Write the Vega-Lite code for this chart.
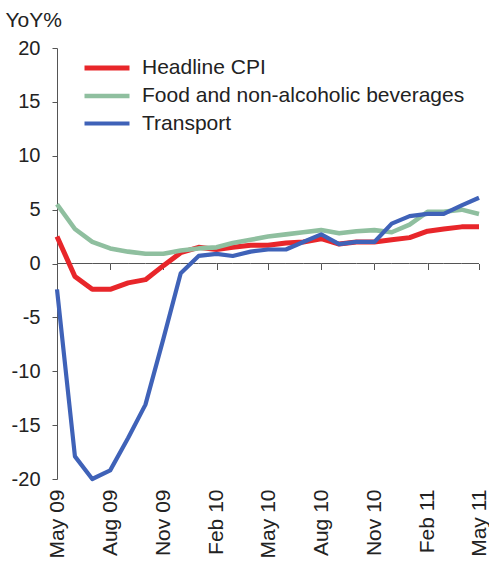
{
  "$schema": "https://vega.github.io/schema/vega-lite/v6.json",
  "width": 422,
  "height": 431,
  "autosize": "none",
  "padding": {"left": 57, "top": 48, "right": 10, "bottom": 91},
  "background": "white",
  "config": {
    "view": {"stroke": null},
    "font": "Liberation Sans",
    "axis": {"labelFont": "Liberation Sans", "titleFont": "Liberation Sans", "labelColor": "#222", "titleColor": "#222"},
    "legend": {"labelFont": "Liberation Sans"}
  },
  "data": {
    "values": [
      {"date": "2009-05-01", "series": "Headline CPI", "value": 2.5},
      {"date": "2009-06-01", "series": "Headline CPI", "value": -1.2},
      {"date": "2009-07-01", "series": "Headline CPI", "value": -2.4},
      {"date": "2009-08-01", "series": "Headline CPI", "value": -2.4},
      {"date": "2009-09-01", "series": "Headline CPI", "value": -1.8},
      {"date": "2009-10-01", "series": "Headline CPI", "value": -1.5},
      {"date": "2009-11-01", "series": "Headline CPI", "value": -0.2},
      {"date": "2009-12-01", "series": "Headline CPI", "value": 1.0},
      {"date": "2010-01-01", "series": "Headline CPI", "value": 1.5},
      {"date": "2010-02-01", "series": "Headline CPI", "value": 1.3},
      {"date": "2010-03-01", "series": "Headline CPI", "value": 1.5},
      {"date": "2010-04-01", "series": "Headline CPI", "value": 1.7},
      {"date": "2010-05-01", "series": "Headline CPI", "value": 1.7},
      {"date": "2010-06-01", "series": "Headline CPI", "value": 1.9},
      {"date": "2010-07-01", "series": "Headline CPI", "value": 2.0},
      {"date": "2010-08-01", "series": "Headline CPI", "value": 2.3},
      {"date": "2010-09-01", "series": "Headline CPI", "value": 1.8},
      {"date": "2010-10-01", "series": "Headline CPI", "value": 2.0},
      {"date": "2010-11-01", "series": "Headline CPI", "value": 2.0},
      {"date": "2010-12-01", "series": "Headline CPI", "value": 2.2},
      {"date": "2011-01-01", "series": "Headline CPI", "value": 2.4},
      {"date": "2011-02-01", "series": "Headline CPI", "value": 3.0},
      {"date": "2011-03-01", "series": "Headline CPI", "value": 3.2},
      {"date": "2011-04-01", "series": "Headline CPI", "value": 3.4},
      {"date": "2011-05-01", "series": "Headline CPI", "value": 3.4},
      {"date": "2009-05-01", "series": "Food and non-alcoholic beverages", "value": 5.5},
      {"date": "2009-06-01", "series": "Food and non-alcoholic beverages", "value": 3.2},
      {"date": "2009-07-01", "series": "Food and non-alcoholic beverages", "value": 2.0},
      {"date": "2009-08-01", "series": "Food and non-alcoholic beverages", "value": 1.4},
      {"date": "2009-09-01", "series": "Food and non-alcoholic beverages", "value": 1.1},
      {"date": "2009-10-01", "series": "Food and non-alcoholic beverages", "value": 0.9},
      {"date": "2009-11-01", "series": "Food and non-alcoholic beverages", "value": 0.9},
      {"date": "2009-12-01", "series": "Food and non-alcoholic beverages", "value": 1.2},
      {"date": "2010-01-01", "series": "Food and non-alcoholic beverages", "value": 1.4},
      {"date": "2010-02-01", "series": "Food and non-alcoholic beverages", "value": 1.5},
      {"date": "2010-03-01", "series": "Food and non-alcoholic beverages", "value": 1.9},
      {"date": "2010-04-01", "series": "Food and non-alcoholic beverages", "value": 2.2},
      {"date": "2010-05-01", "series": "Food and non-alcoholic beverages", "value": 2.5},
      {"date": "2010-06-01", "series": "Food and non-alcoholic beverages", "value": 2.7},
      {"date": "2010-07-01", "series": "Food and non-alcoholic beverages", "value": 2.9},
      {"date": "2010-08-01", "series": "Food and non-alcoholic beverages", "value": 3.1},
      {"date": "2010-09-01", "series": "Food and non-alcoholic beverages", "value": 2.8},
      {"date": "2010-10-01", "series": "Food and non-alcoholic beverages", "value": 3.0},
      {"date": "2010-11-01", "series": "Food and non-alcoholic beverages", "value": 3.1},
      {"date": "2010-12-01", "series": "Food and non-alcoholic beverages", "value": 2.9},
      {"date": "2011-01-01", "series": "Food and non-alcoholic beverages", "value": 3.6},
      {"date": "2011-02-01", "series": "Food and non-alcoholic beverages", "value": 4.8},
      {"date": "2011-03-01", "series": "Food and non-alcoholic beverages", "value": 4.8},
      {"date": "2011-04-01", "series": "Food and non-alcoholic beverages", "value": 5.0},
      {"date": "2011-05-01", "series": "Food and non-alcoholic beverages", "value": 4.6},
      {"date": "2009-05-01", "series": "Transport", "value": -2.4},
      {"date": "2009-06-01", "series": "Transport", "value": -17.9},
      {"date": "2009-07-01", "series": "Transport", "value": -20.0},
      {"date": "2009-08-01", "series": "Transport", "value": -19.2},
      {"date": "2009-09-01", "series": "Transport", "value": -16.2},
      {"date": "2009-10-01", "series": "Transport", "value": -13.1},
      {"date": "2009-11-01", "series": "Transport", "value": -7.0},
      {"date": "2009-12-01", "series": "Transport", "value": -0.9},
      {"date": "2010-01-01", "series": "Transport", "value": 0.7},
      {"date": "2010-02-01", "series": "Transport", "value": 0.9},
      {"date": "2010-03-01", "series": "Transport", "value": 0.7},
      {"date": "2010-04-01", "series": "Transport", "value": 1.1},
      {"date": "2010-05-01", "series": "Transport", "value": 1.3},
      {"date": "2010-06-01", "series": "Transport", "value": 1.3},
      {"date": "2010-07-01", "series": "Transport", "value": 2.0},
      {"date": "2010-08-01", "series": "Transport", "value": 2.7},
      {"date": "2010-09-01", "series": "Transport", "value": 1.8},
      {"date": "2010-10-01", "series": "Transport", "value": 2.0},
      {"date": "2010-11-01", "series": "Transport", "value": 2.0},
      {"date": "2010-12-01", "series": "Transport", "value": 3.7},
      {"date": "2011-01-01", "series": "Transport", "value": 4.4},
      {"date": "2011-02-01", "series": "Transport", "value": 4.6},
      {"date": "2011-03-01", "series": "Transport", "value": 4.6},
      {"date": "2011-04-01", "series": "Transport", "value": 5.4},
      {"date": "2011-05-01", "series": "Transport", "value": 6.1}
    ]
  },
  "layer": [
    {
      "transform": [{"filter": "datum.series === 'Headline CPI'"}],
      "mark": {"type": "line", "color": "#555555", "strokeWidth": 1},
      "encoding": {
        "x": {
          "field": "date", "type": "temporal",
          "scale": {"type": "utc", "domain": [{"year": 2009, "month": 5, "date": 1, "utc": true}, {"year": 2011, "month": 5, "date": 1, "utc": true}], "nice": false},
          "axis": {
            "orient": "bottom",
            "title": null, "labels": false, "domain": false, "ticks": true, "tickSize": 6, "tickColor": "#555555", "tickWidth": 1, "grid": false,
            "offset": -215.5,
            "values": [
              {"year": 2009, "month": 5, "date": 1, "utc": true}, {"year": 2009, "month": 8, "date": 1, "utc": true},
              {"year": 2009, "month": 11, "date": 1, "utc": true}, {"year": 2010, "month": 2, "date": 1, "utc": true},
              {"year": 2010, "month": 5, "date": 1, "utc": true}, {"year": 2010, "month": 8, "date": 1, "utc": true},
              {"year": 2010, "month": 11, "date": 1, "utc": true}, {"year": 2011, "month": 2, "date": 1, "utc": true},
              {"year": 2011, "month": 5, "date": 1, "utc": true}
            ]
          }
        },
        "y": {"datum": 0, "type": "quantitative"}
      }
    },
    {
      "mark": {"type": "line", "strokeJoin": "round"},
      "encoding": {
        "x": {
          "field": "date", "type": "temporal",
          "axis": {
            "orient": "bottom",
            "title": null, "domain": false, "ticks": false, "grid": false, "labelAngle": -90, "labelFontSize": 21, "labelPadding": 10,
            "format": "%b %y", "labelOverlap": false, "labelColor": "#222222",
            "values": [
              {"year": 2009, "month": 5, "date": 1, "utc": true}, {"year": 2009, "month": 8, "date": 1, "utc": true},
              {"year": 2009, "month": 11, "date": 1, "utc": true}, {"year": 2010, "month": 2, "date": 1, "utc": true},
              {"year": 2010, "month": 5, "date": 1, "utc": true}, {"year": 2010, "month": 8, "date": 1, "utc": true},
              {"year": 2010, "month": 11, "date": 1, "utc": true}, {"year": 2011, "month": 2, "date": 1, "utc": true},
              {"year": 2011, "month": 5, "date": 1, "utc": true}
            ]
          }
        },
        "y": {
          "field": "value", "type": "quantitative",
          "scale": {"domain": [-20, 20], "nice": false},
          "axis": {
            "title": "YoY%", "titleAngle": 0, "titleAlign": "left", "titleBaseline": "alphabetic", "titleX": -52, "titleY": -22, "titleFontSize": 21, "titleFontWeight": "normal",
            "values": [-20, -15, -10, -5, 0, 5, 10, 15, 20], "grid": false, "labelExpr": "toString(datum.value)",
            "tickSize": 5, "tickColor": "#555555", "domainColor": "#555555", "labelFontSize": 20, "labelPadding": 12
          }
        },
        "color": {
          "field": "series", "type": "nominal",
          "scale": {"domain": ["Headline CPI", "Food and non-alcoholic beverages", "Transport"], "range": ["#e8262a", "#8fbf9f", "#3f62b8"]},
          "legend": {
            "title": null, "orient": "none", "legendX": 36, "legendY": 6, "padding": 0,
            "symbolType": "M-2,0H2", "symbolSize": 506, "labelOffset": 21, "rowPadding": 4, "labelLimit": 400,
            "labelFontSize": 21, "labelColor": "#222222", "symbolStrokeWidth": 5
          }
        },
        "strokeWidth": {
          "field": "series", "type": "nominal",
          "scale": {"domain": ["Headline CPI", "Food and non-alcoholic beverages", "Transport"], "range": [5, 4.2, 3.3]},
          "legend": null
        }
      }
    }
  ],
  "resolve": {"axis": {"x": "independent"}}
}
